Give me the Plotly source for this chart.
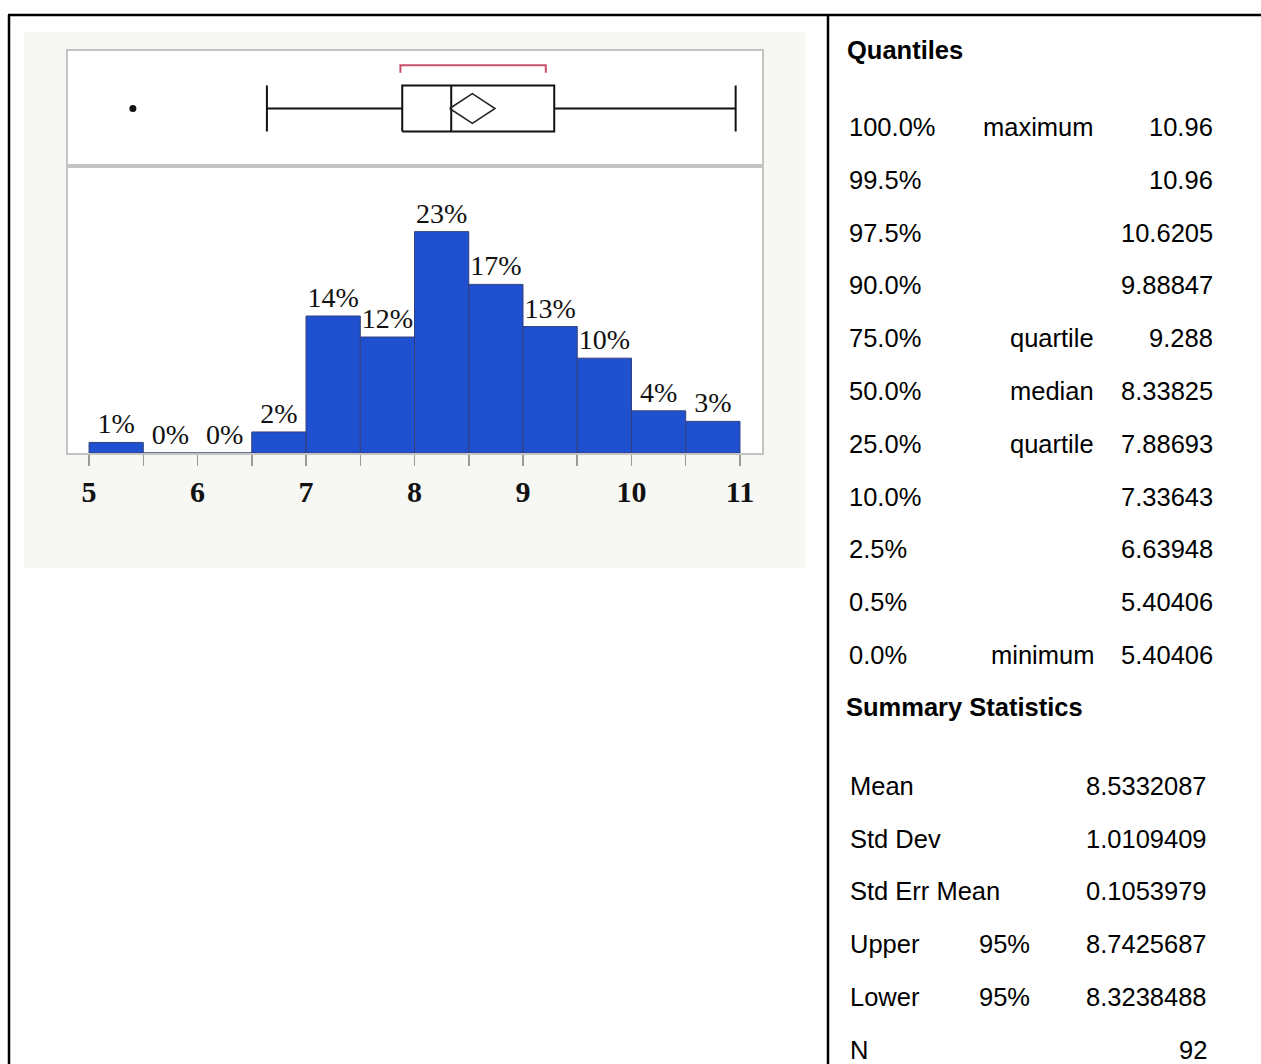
import plotly.graph_objects as go

# ---------------- data ----------------
bin_start = [5.0, 5.5, 6.0, 6.5, 7.0, 7.5, 8.0, 8.5, 9.0, 9.5, 10.0, 10.5]
bin_pct = [1.09, 0.0, 0.0, 2.17, 14.13, 11.96, 22.83, 17.39, 13.04, 9.78, 4.35, 3.26]
bin_labels = ["1%", "0%", "0%", "2%", "14%", "12%", "23%", "17%", "13%", "10%", "4%", "3%"]
tick_vals = [5, 5.5, 6, 6.5, 7, 7.5, 8, 8.5, 9, 9.5, 10, 10.5, 11]
tick_text = ["5", "", "6", "", "7", "", "8", "", "9", "", "10", "", "11"]

outliers = [5.40406]
whisker_low = 6.63948
q1 = 7.88693
median = 8.33825
q3 = 9.288
whisker_high = 10.96
mean = 8.5332087
ci_lower = 8.3238488
ci_upper = 8.7425687
shortest_half = [7.87, 9.21]

quant_pcts = ["100.0%", "99.5%", "97.5%", "90.0%", "75.0%", "50.0%", "25.0%",
              "10.0%", "2.5%", "0.5%", "0.0%"]
quant_names = ["maximum", "", "", "", "quartile", "median", "quartile", "", "", "", "minimum"]
quant_values = ["10.96", "10.96", "10.6205", "9.88847", "9.288", "8.33825", "7.88693",
                "7.33643", "6.63948", "5.40406", "5.40406"]

sum_names = ["Mean", "Std Dev", "Std Err Mean", "Upper", "Lower", "N"]
sum_mid = ["", "", "", "95%", "95%", ""]
sum_values = ["8.5332087", "1.0109409", "0.1053979", "8.7425687", "8.3238488", "92"]

# ---------------- layout helpers ----------------
W, H = 1261, 1064


def fx(px):
    return px / W


def fy(py):
    return 1 - py / H


BAR_COLOR = "#1f50cf"
FRAME = "#c4c4c4"
BLK = "#111111"
RED = "#c8506a"

# box-plot vertical positions inside the box panel (0..1)
BOX_LO, BOX_HI, BOX_MID = 0.30, 0.70, 0.50
DIA_H = 0.13
BR_Y, BR_TICK = 0.875, 0.81

fig = go.Figure()

# histogram
fig.add_trace(go.Bar(
    x=bin_start, y=bin_pct, width=0.5, offset=0,
    marker=dict(color=BAR_COLOR, line=dict(color="#34407a", width=1)),
    text=bin_labels, textposition="outside", cliponaxis=False,
    textfont=dict(family="Liberation Serif", size=28, color="#111111"),
    xaxis="x", yaxis="y", showlegend=False, hoverinfo="skip",
))

box_kw = dict(xaxis="x2", yaxis="y2", mode="lines", showlegend=False, hoverinfo="skip")
# box
fig.add_trace(go.Scatter(x=[q1, q3, q3, q1, q1], y=[BOX_LO, BOX_LO, BOX_HI, BOX_HI, BOX_LO],
                         line=dict(color=BLK, width=2), **box_kw))
# median
fig.add_trace(go.Scatter(x=[median, median], y=[BOX_LO, BOX_HI], line=dict(color=BLK, width=2), **box_kw))
# whiskers
fig.add_trace(go.Scatter(x=[whisker_low, q1, None, q3, whisker_high],
                         y=[BOX_MID, BOX_MID, None, BOX_MID, BOX_MID],
                         line=dict(color=BLK, width=2), **box_kw))
# caps
fig.add_trace(go.Scatter(x=[whisker_low, whisker_low, None, whisker_high, whisker_high],
                         y=[BOX_LO, BOX_HI, None, BOX_LO, BOX_HI],
                         line=dict(color=BLK, width=2), **box_kw))
# mean diamond
fig.add_trace(go.Scatter(x=[ci_lower, mean, ci_upper, mean, ci_lower],
                         y=[BOX_MID, BOX_MID + DIA_H, BOX_MID, BOX_MID - DIA_H, BOX_MID],
                         line=dict(color="#222222", width=1.5), **box_kw))
# shortest half bracket
fig.add_trace(go.Scatter(x=[shortest_half[0], shortest_half[0], shortest_half[1], shortest_half[1]],
                         y=[BR_TICK, BR_Y, BR_Y, BR_TICK],
                         line=dict(color=RED, width=2), **box_kw))
# outlier
fig.add_trace(go.Scatter(x=outliers, y=[BOX_MID] * len(outliers), mode="markers",
                         marker=dict(color=BLK, size=7), xaxis="x2", yaxis="y2",
                         showlegend=False, hoverinfo="skip"))

xr = [4.806, 11.203]
fig.update_layout(
    width=W, height=H, margin=dict(l=0, r=0, t=0, b=0),
    paper_bgcolor="white", plot_bgcolor="white",
    xaxis=dict(domain=[fx(68), fx(762)], range=xr, anchor="y",
               tickvals=tick_vals, ticktext=tick_text, ticks="outside", ticklen=11,
               tickwidth=1.5, tickcolor="#9a9a9a",
               tickfont=dict(family="Liberation Serif", size=30, color="#111111", weight="bold"),
               showline=True, linecolor=FRAME, linewidth=2, mirror=True,
               showgrid=False, zeroline=False, fixedrange=True),
    yaxis=dict(domain=[fy(453), fy(166)], range=[0, 29.6], anchor="x",
               showticklabels=False, ticks="", showline=True, linecolor=FRAME,
               linewidth=2, mirror=True, showgrid=False, zeroline=False),
    xaxis2=dict(domain=[fx(68), fx(762)], range=xr, anchor="y2",
                showticklabels=False, ticks="", showline=True, linecolor=FRAME,
                linewidth=2, mirror=True, showgrid=False, zeroline=False),
    yaxis2=dict(domain=[fy(166), fy(51)], range=[0, 1], anchor="x2",
                showticklabels=False, ticks="", showline=True, linecolor=FRAME,
                linewidth=2, mirror=True, showgrid=False, zeroline=False),
)

shapes = [
    # gray image background
    dict(type="rect", xref="paper", yref="paper", x0=fx(24), x1=fx(806), y0=fy(568), y1=fy(32),
         fillcolor="#f7f7f4", line=dict(width=0), layer="below"),
    # white plot frame interior
    dict(type="rect", xref="paper", yref="paper", x0=fx(68), x1=fx(762), y0=fy(453), y1=fy(51),
         fillcolor="white", line=dict(width=0), layer="below"),
    # page borders
    dict(type="line", xref="paper", yref="paper", x0=fx(8), x1=1, y0=fy(15), y1=fy(15),
         line=dict(color="black", width=2.5)),
    dict(type="line", xref="paper", yref="paper", x0=fx(9), x1=fx(9), y0=0, y1=fy(15),
         line=dict(color="black", width=2.5)),
    dict(type="line", xref="paper", yref="paper", x0=fx(828), x1=fx(828), y0=0, y1=fy(15),
         line=dict(color="black", width=2.5)),
]
fig.update_layout(shapes=shapes)

ann = []
TF = "Liberation Sans"
FS = 25.5
ann.append(dict(text="<b>Quantiles</b>", x=fx(845), y=fy(50), xref="paper", yref="paper",
                xanchor="left", yanchor="middle", showarrow=False,
                font=dict(family=TF, size=FS, color="black")))
for i, (p, n, v) in enumerate(zip(quant_pcts, quant_names, quant_values)):
    yy = fy(127 + 52.8 * i)
    ann.append(dict(text=p, x=fx(847), y=yy, xref="paper", yref="paper", xanchor="left",
                    yanchor="middle", showarrow=False, font=dict(family=TF, size=FS, color="black")))
    if n:
        ann.append(dict(text=n, x=fx(1096), y=yy, xref="paper", yref="paper", xanchor="right",
                        yanchor="middle", showarrow=False, font=dict(family=TF, size=FS, color="black")))
    ann.append(dict(text=v, x=fx(1215), y=yy, xref="paper", yref="paper", xanchor="right",
                    yanchor="middle", showarrow=False, font=dict(family=TF, size=FS, color="black")))

ann.append(dict(text="<b>Summary Statistics</b>", x=fx(844), y=fy(707), xref="paper", yref="paper",
                xanchor="left", yanchor="middle", showarrow=False,
                font=dict(family=TF, size=FS, color="black")))
for i, (n, m, v) in enumerate(zip(sum_names, sum_mid, sum_values)):
    yy = fy(786 + 52.7 * i)
    ann.append(dict(text=n, x=fx(848), y=yy, xref="paper", yref="paper", xanchor="left",
                    yanchor="middle", showarrow=False, font=dict(family=TF, size=FS, color="black")))
    if m:
        ann.append(dict(text=m, x=fx(977), y=yy, xref="paper", yref="paper", xanchor="left",
                        yanchor="middle", showarrow=False, font=dict(family=TF, size=FS, color="black")))
    ann.append(dict(text=v, x=fx(1209), y=yy, xref="paper", yref="paper", xanchor="right",
                    yanchor="middle", showarrow=False, font=dict(family=TF, size=FS, color="black")))
fig.update_layout(annotations=ann)

fig.write_html("out.html", config={"displayModeBar": False, "staticPlot": True},
               post_script="document.body.style.margin='0';document.body.style.overflow='hidden';")
